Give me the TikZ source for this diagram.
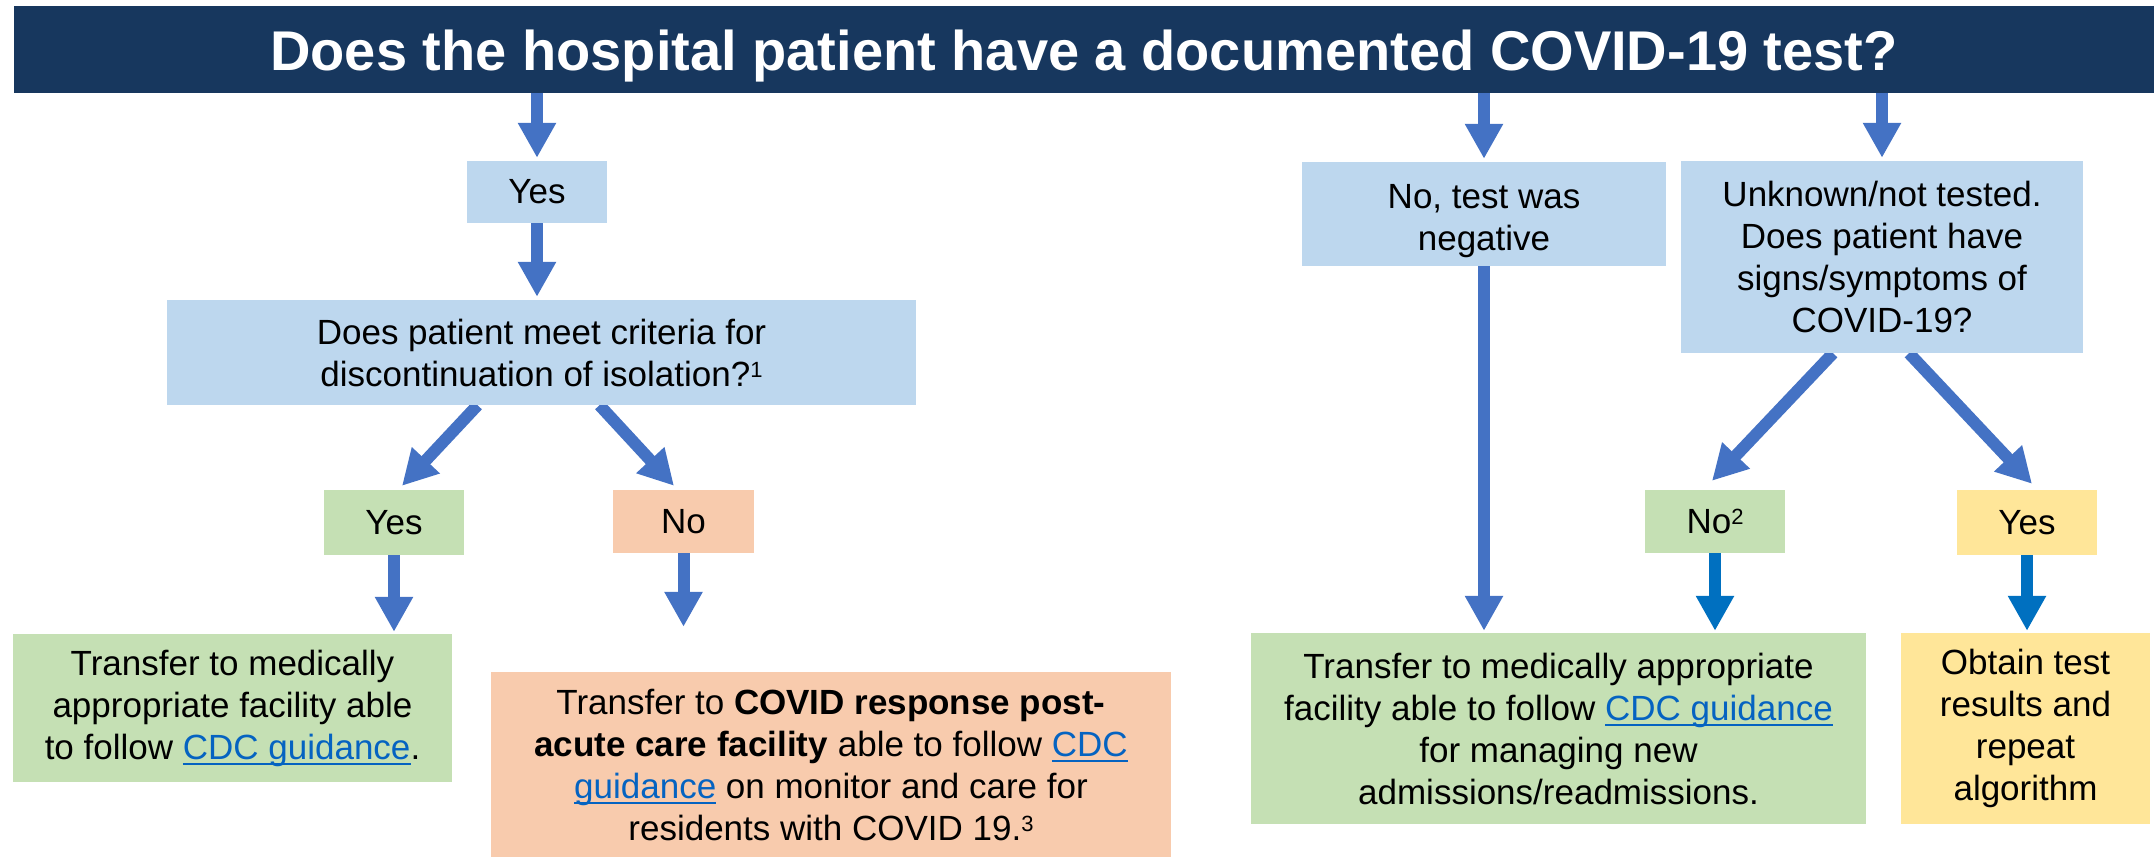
\documentclass[tikz,border=0pt]{standalone}
\usepackage{fontspec}
\setmainfont{Liberation Sans}
\usetikzlibrary{arrows.meta,backgrounds}
\definecolor{navy}{HTML}{17375E}
\definecolor{lblue}{HTML}{BDD7EE}
\definecolor{lgreen}{HTML}{C5E0B4}
\definecolor{lorange}{HTML}{F8CBAD}
\definecolor{lyellow}{HTML}{FFE699}
\definecolor{arrowc}{HTML}{4472C4}
\definecolor{arrowd}{HTML}{0070C0}
\definecolor{linkc}{HTML}{0563C1}
\newcommand\lnk[1]{{\color{linkc}\setbox0\hbox{#1}\rlap{\rule[-6pt]{\wd0}{2.5pt}}\box0}}
\newcommand\sups[1]{\raisebox{9pt}{\fontsize{22}{22}\selectfont #1}}
\begin{document}
\begin{tikzpicture}[x=1pt,y=-1pt,
  box/.style={rectangle, inner sep=0pt, align=center, font=\fontsize{35}{42}\selectfont},
  arr/.style={line width=12pt, draw=arrowc, -{Triangle[length=35pt,width=36pt]}},
  arrd/.style={arr, draw=arrowd}]
\useasboundingbox (0,0) rectangle (2154,859);
\node[fill=navy, text=white, inner sep=0pt, font=\fontsize{56}{60}\selectfont\bfseries,
  minimum width=2140pt, minimum height=87pt, text height=42pt, text depth=0pt] (title) at (1084,49.5)
  {Does the hospital patient have a documented COVID-19 test?};
% left branch
\node[box, fill=lblue, minimum width=140pt, minimum height=62pt] (yes1) at (537,192) {Yes};
\node[box, fill=lblue, minimum width=749pt, minimum height=105pt] (crit) at (541.5,352.5)
  {Does patient meet criteria for\\discontinuation of isolation?\sups{1}};
\node[box, fill=lgreen, minimum width=140pt, minimum height=65pt] (yesG) at (394,522.5) {Yes};
\node[box, fill=lorange, minimum width=141pt, minimum height=63pt] (noO) at (683.5,521.5) {No};
\node[box, fill=lgreen, minimum width=439pt, minimum height=148pt] (leftG) at (232.5,708)
  {Transfer to medically\\appropriate facility able\\to follow \lnk{CDC guidance}.};
\node[box, fill=lorange, minimum width=680pt, minimum height=185pt] (orangeBig) at (831,764.5)
  {Transfer to \textbf{COVID response post-}\\\textbf{acute care facility} able to follow \lnk{CDC}\\\lnk{guidance} on monitor and care for\\residents with COVID 19.\sups{3}};
% right branch
\node[box, fill=lblue, minimum width=364pt, minimum height=104pt] (neg) at (1484,214)
  {\rule{0pt}{38pt}No, test was\\negative};
\node[box, fill=lblue, minimum width=402pt, minimum height=192pt] (unk) at (1882,257)
  {Unknown/not tested.\\Does patient have\\signs/symptoms of\\COVID-19?};
\node[box, fill=lgreen, minimum width=140pt, minimum height=63pt] (no2) at (1715,521.5) {No\sups{2}};
\node[box, fill=lyellow, minimum width=140pt, minimum height=65pt] (yesY) at (2027,522.5) {Yes};
\node[box, fill=lgreen, minimum width=615pt, minimum height=191pt] (bigG) at (1558.5,728.5)
  {Transfer to medically appropriate\\facility able to follow \lnk{CDC guidance}\\for managing new\\admissions/readmissions.};
\node[box, fill=lyellow, minimum width=249pt, minimum height=191pt] (yellowBig) at (2025.5,728.5)
  {Obtain test\\results and\\repeat\\algorithm};
\begin{scope}[on background layer]
\draw[arr] (title.south -| yes1.north) -- ([yshift=3pt]yes1.north);
\draw[arr] (title.south -| neg.north) -- ([yshift=3pt]neg.north);
\draw[arr] (title.south -| unk.north) -- ([yshift=3pt]unk.north);
\draw[arr] (yes1.south) -- ([yshift=3pt]yes1.south |- crit.north);
\draw[arr] ([xshift=-64pt]crit.south) -- ([xshift=8pt,yshift=4pt]yesG.north);
\draw[arr] ([xshift=58pt]crit.south) -- ([xshift=-9.5pt,yshift=4pt]noO.north);
\draw[arr] (yesG.south) -- ([yshift=2pt]yesG.south |- leftG.north);
\draw[arr] (noO.south) -- ([yshift=45pt]noO.south |- orangeBig.north);
\draw[arr] (neg.south) -- ([yshift=2pt]neg.south |- bigG.north);
\draw[arr] ([xshift=-49pt]unk.south) -- ([xshift=-3pt,yshift=9pt]no2.north);
\draw[arr] ([xshift=27pt]unk.south) -- ([xshift=5pt,yshift=6pt]yesY.north);
\draw[arrd] (no2.south) -- ([yshift=2pt]no2.south |- bigG.north);
\draw[arrd] (yesY.south) -- ([yshift=2pt]yesY.south |- yellowBig.north);
\end{scope}
\end{tikzpicture}
\end{document}
